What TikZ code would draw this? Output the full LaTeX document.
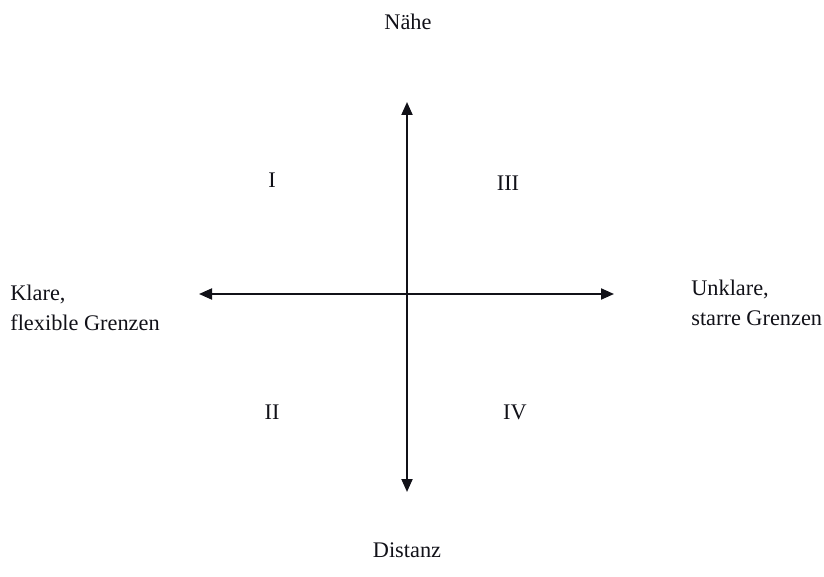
\documentclass[tikz,border=0pt]{standalone}
\usepackage{fontspec}
\setmainfont{Liberation Serif}
\usetikzlibrary{arrows.meta, positioning}
\definecolor{axisink}{HTML}{111118}

\begin{document}
\begin{tikzpicture}[
    x=0.02cm, y=-0.02cm,
    lbl/.style={font=\fontsize{12.7}{17}\selectfont, text=axisink, inner sep=0pt},
    axis/.style={{Triangle[length=0.26cm,width=0.22cm]}-{Triangle[length=0.26cm,width=0.22cm]}, line width=0.04cm, color=axisink}
]
\useasboundingbox (0,0) rectangle (824,577);

% axes
\coordinate (top) at (407,102);
\coordinate (bottom) at (407,492);
\coordinate (left) at (199,294);
\coordinate (right) at (614,294);
\draw[axis] (top) -- (bottom);
\draw[axis] (left) -- (right);

% axis labels
\node[lbl] (naehe) at (408,22) {Nähe};
\node[lbl] (distanz) at (407,550) {Distanz};
\node[lbl, anchor=west, align=left] (klar) at (10,308) {Klare,\\flexible Grenzen};
\node[lbl, anchor=west, align=left] (unklar) at (691,303) {Unklare,\\starre Grenzen};

% quadrants
\node[lbl] (q1) at (272,180) {I};
\node[lbl] (q3) at (508,183) {III};
\node[lbl] (q2) at (272,412) {II};
\node[lbl] (q4) at (515,412) {IV};
\end{tikzpicture}
\end{document}
